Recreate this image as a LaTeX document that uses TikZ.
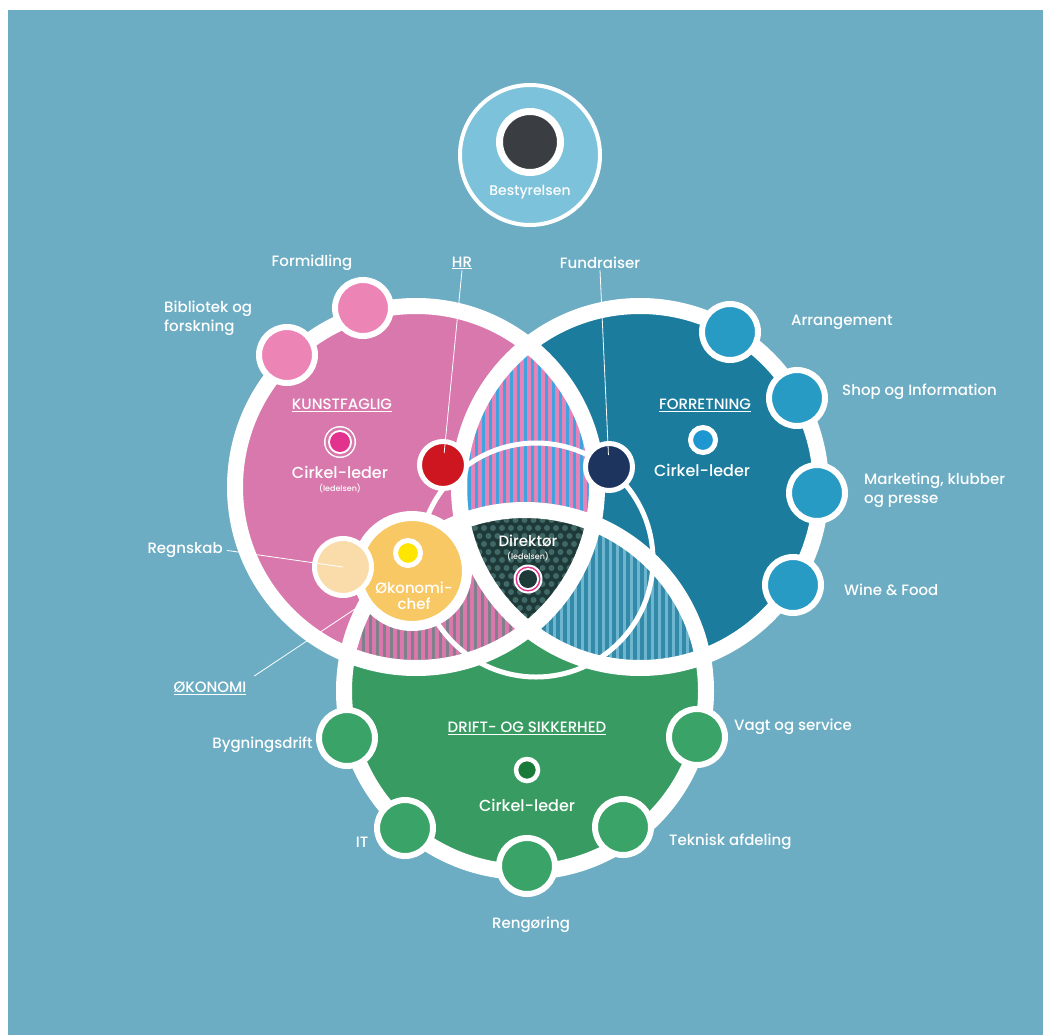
\documentclass[tikz,border=0pt]{standalone}
\usepackage{fontspec}
\setmainfont{Poppins}[UprightFont={* Medium}]
\usetikzlibrary{calc}
\definecolor{bg}{RGB}{108,173,196}
\definecolor{pinkc}{RGB}{216,120,172}
\definecolor{pinksub}{RGB}{236,132,182}
\definecolor{bluec}{RGB}{28,124,158}
\definecolor{bluesub}{RGB}{40,155,196}
\definecolor{greenc}{RGB}{56,156,98}
\definecolor{greensub}{RGB}{58,164,104}
\definecolor{bestblue}{RGB}{124,194,218}
\definecolor{bestdark}{RGB}{58,62,66}
\definecolor{hrred}{RGB}{206,22,32}
\definecolor{fundnavy}{RGB}{28,52,94}
\definecolor{okyellow}{RGB}{247,200,100}
\definecolor{okdot}{RGB}{255,230,0}
\definecolor{peach}{RGB}{250,220,170}
\definecolor{dirdark}{RGB}{30,58,56}
\definecolor{dirdot}{RGB}{64,104,102}
\definecolor{stpink}{RGB}{228,130,186}
\definecolor{stblue}{RGB}{66,162,222}
\definecolor{stgrey}{RGB}{128,128,138}
\definecolor{stlblue}{RGB}{110,182,208}
\definecolor{magenta}{RGB}{226,50,142}
\definecolor{forrdot}{RGB}{30,150,210}
\definecolor{driftdot}{RGB}{26,122,58}
\begin{document}
\begin{tikzpicture}[x=1pt,y=-1pt,
  lbl/.style={text=white, font=\fontsize{15}{19}\selectfont, inner sep=1pt},
  small/.style={text=white, font=\fontsize{8}{9}\selectfont, inner sep=0pt},
  ring/.style={draw=white, line width=16pt},
  subc/.style={circle, draw=white, line width=6pt, minimum size=56pt, inner sep=0pt},
  conn/.style={draw=white, line width=0.8pt},
  dotc/.style={circle, draw=white, inner sep=0pt}]
\useasboundingbox (0,0) rectangle (1043,1035);
\fill[white] (0,0) rectangle (1043,1035);
\fill[bg] (8,10) rectangle (1043,1035);

% Bestyrelsen
\node[circle, fill=bestblue, draw=white, line width=4pt, minimum size=140pt, inner sep=0pt] (best) at (530,155) {};
\node[circle, fill=bestdark, draw=white, line width=7pt, minimum size=61pt, inner sep=0pt] (bestdot) at (530,142) {};
\node[lbl, font=\fontsize{14}{16}\selectfont] (tBest) at (530,192) {Bestyrelsen};

% big circles
\coordinate (P) at (416,487);
\coordinate (B) at (640,487);
\coordinate (G) at (525,691);
\def\RR{181pt}
\fill[pinkc] (P) circle (\RR);
\fill[bluec] (B) circle (\RR);
\fill[greenc] (G) circle (\RR);

% pink & blue lens
\begin{scope}
\clip (P) circle (\RR); \clip (B) circle (\RR);
\fill[stpink] (300,250) rectangle (750,750);
\foreach \x in {300,307,...,750} \fill[stblue] (\x,250) rectangle ({\x+3.2},750);
\end{scope}
% pink & green lens
\begin{scope}
\clip (P) circle (\RR); \clip (G) circle (\RR);
\fill[pinkc] (250,450) rectangle (750,900);
\foreach \x in {250,257,...,750} \fill[stgrey] (\x,450) rectangle ({\x+3},900);
\end{scope}
% blue & green lens
\begin{scope}
\clip (B) circle (\RR); \clip (G) circle (\RR);
\fill[bluec!90!white] (350,450) rectangle (850,900);
\foreach \x in {350,357,...,850} \fill[stlblue] (\x,450) rectangle ({\x+3},900);
\end{scope}
% triple region
\begin{scope}
\clip (P) circle (\RR); \clip (B) circle (\RR); \clip (G) circle (\RR);
\fill[dirdark] (420,470) rectangle (640,670);
\foreach \xx in {430,439,...,630} \foreach \yy in {480,496,...,660} {
  \fill[dirdot] (\xx,\yy) circle (3pt);
  \fill[dirdot] ({\xx+4.5},{\yy+8}) circle (3pt);
}
\end{scope}

% white rings
\draw[ring] (P) circle (\RR);
\draw[ring] (B) circle (\RR);
\draw[ring] (G) circle (\RR);

% leadership ring
\draw[draw=white, line width=5pt] (536,560) circle (117pt);

% sub circles
\node[subc, fill=pinksub] (formidling) at (363,308) {};
\node[subc, fill=pinksub] (bibliotek) at (287,355) {};
\node[subc, fill=bluesub] (arrangement) at (730,332) {};
\node[subc, fill=bluesub] (shop) at (797,398) {};
\node[subc, fill=bluesub] (marketing) at (817,493) {};
\node[subc, fill=bluesub] (wine) at (793,585) {};
\node[subc, fill=greensub] (bygning) at (347,738) {};
\node[subc, fill=greensub] (it) at (405,828) {};
\node[subc, fill=greensub] (rengoring) at (527,866) {};
\node[subc, fill=greensub] (teknisk) at (623,827) {};
\node[subc, fill=greensub] (vagt) at (697,737) {};

% HR, Fundraiser
\node[circle, fill=hrred, draw=white, line width=5pt, minimum size=47pt, inner sep=0pt] (hr) at (443,465) {};
\node[circle, fill=fundnavy, draw=white, line width=5pt, minimum size=47pt, inner sep=0pt] (fund) at (609,467) {};

% Okonomichef and Regnskab
\node[circle, fill=okyellow, draw=white, line width=10pt, minimum size=110pt, inner sep=0pt] (okchef) at (412,571) {};
\node[circle, fill=peach, draw=white, line width=5pt, minimum size=57pt, inner sep=0pt] (regnskab) at (343,567) {};
\node[dotc, fill=okdot, line width=5pt, minimum size=25pt] (okdot) at (408,553) {};
\node[lbl, align=center, font=\fontsize{15}{16}\selectfont] (tOkchef) at (414,596) {Økonomi-\\chef};

% Kunstfaglig
\node[lbl] (tKunst) at (342,405) {\underline{KUNSTFAGLIG}};
\fill[white] (340,442) circle (16pt);
\fill[pinkc] (340,442) circle (14.5pt);
\fill[white] (340,442) circle (12pt);
\node[circle, fill=magenta, inner sep=0pt, minimum size=20pt] (kdot) at (340,442) {};
\node[lbl, font=\fontsize{16}{18}\selectfont] (tKCl) at (340,472) {Cirkel-leder};
\node[small] (tKled) at (340,489) {(ledelsen)};

% Forretning
\node[lbl] (tForr) at (705,405) {\underline{FORRETNING}};
\node[dotc, fill=forrdot, line width=5pt, minimum size=25pt] (fdot) at (703,440) {};
\node[lbl, font=\fontsize{16}{18}\selectfont] (tFCl) at (702,470) {Cirkel-leder};

% Drift
\node[lbl] (tDrift) at (527,728) {\underline{DRIFT- OG SIKKERHED}};
\node[dotc, fill=driftdot, line width=4.5pt, minimum size=22pt] (ddot) at (527,770) {};
\node[lbl, font=\fontsize{16}{18}\selectfont] (tDCl) at (527,805) {Cirkel-leder};

% Direktor
\node[lbl] (tDir) at (528,541) {Direktør};
\node[small] (tDled) at (528,557) {(ledelsen)};
\fill[white] (528,579) circle (14.5pt);
\fill[magenta] (528,579) circle (12.5pt);
\fill[white] (528,579) circle (11pt);
\node[circle, fill=dirdark, inner sep=0pt, minimum size=18pt] (dirdot) at (528,579) {};

% outer labels
\node[lbl] (tForm) at (312,263) {Formidling};
\node[lbl, align=left, anchor=west] (tBib) at (163,318) {Bibliotek og\\forskning};
\node[lbl] (tHR) at (462,263) {\underline{HR}};
\node[lbl] (tFund) at (600,263) {Fundraiser};
\node[lbl, anchor=west] (tArr) at (790,322) {Arrangement};
\node[lbl, anchor=west] (tShop) at (841,392) {Shop og Information};
\node[lbl, anchor=west, align=left] (tMkt) at (863,490) {Marketing, klubber\\og presse};
\node[lbl, anchor=west] (tWine) at (843,590) {Wine \& Food};
\node[lbl, anchor=east] (tRegn) at (224,550) {Regnskab};
\node[lbl] (tOk) at (210,688) {\underline{ØKONOMI}};
\node[lbl, anchor=east] (tByg) at (314,745) {Bygningsdrift};
\node[lbl] (tIT) at (362,842) {IT};
\node[lbl] (tReng) at (531,925) {Rengøring};
\node[lbl, anchor=west] (tTek) at (668,842) {Teknisk afdeling};
\node[lbl, anchor=west] (tVagt) at (733,727) {Vagt og service};

% connectors
\draw[conn, shorten >=12pt] (tHR.south) -- (hr.center);
\draw[conn, shorten >=12pt] (tFund.south) -- (fund.center);
\draw[conn, shorten <=3pt] (tRegn.east) -- (regnskab.center);
\draw[conn, shorten <=8pt, shorten >=50pt] (tOk.north east) -- (okchef.center);
\end{tikzpicture}
\end{document}
